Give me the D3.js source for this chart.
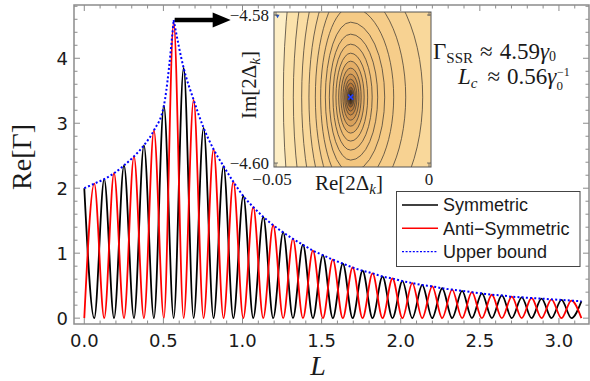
<!DOCTYPE html>
<html>
<head>
<meta charset="utf-8">
<script src="https://cdn.jsdelivr.net/npm/d3@7"></script>
<style>
  body { margin: 0; background: #fff; }
  text { fill: #1a1a1a; }
</style>
</head>
<body>
<div id="chart"></div>
<script>
// positions of the successive maxima (L)
const peakL = [0.000, 0.063, 0.126, 0.188, 0.251, 0.314, 0.377, 0.440, 0.503, 0.565,
  0.628, 0.691, 0.754, 0.817, 0.880, 0.942, 1.005, 1.068, 1.131, 1.194,
  1.257, 1.319, 1.382, 1.445, 1.508, 1.571, 1.634, 1.696, 1.759, 1.822,
  1.885, 1.948, 2.011, 2.073, 2.136, 2.199, 2.262, 2.325, 2.388, 2.450,
  2.513, 2.576, 2.639, 2.702, 2.765, 2.827, 2.890, 2.953, 3.016, 3.079, 3.142];

const symmetric = [2.00, 0, 2.14, 0, 2.35, 0, 2.66, 0, 3.27, 0,
  3.85, 0, 2.93, 0, 2.34, 0, 1.88, 0, 1.56, 0,
  1.32, 0, 1.13, 0, 0.97, 0, 0.84, 0, 0.73, 0,
  0.64, 0, 0.57, 0, 0.51, 0, 0.46, 0, 0.42, 0,
  0.38, 0, 0.35, 0, 0.32, 0, 0.30, 0, 0.28, 0, 0.26];

const antiSymmetric = [0, 2.07, 0, 2.23, 0, 2.49, 0, 2.89, 0, 4.55,
  0, 3.36, 0, 2.60, 0, 2.10, 0, 1.71, 0, 1.43,
  0, 1.22, 0, 1.04, 0, 0.90, 0, 0.78, 0, 0.69,
  0, 0.61, 0, 0.54, 0, 0.49, 0, 0.44, 0, 0.40,
  0, 0.36, 0, 0.33, 0, 0.31, 0, 0.29, 0, 0.27, 0];

const upperBound = [2.00, 2.07, 2.14, 2.23, 2.35, 2.49, 2.66, 2.89, 3.27, 4.59,
  3.85, 3.36, 2.93, 2.60, 2.34, 2.10, 1.88, 1.71, 1.56, 1.43,
  1.32, 1.22, 1.13, 1.04, 0.97, 0.90, 0.84, 0.78, 0.73, 0.69,
  0.64, 0.61, 0.57, 0.54, 0.51, 0.49, 0.46, 0.44, 0.42, 0.40,
  0.38, 0.36, 0.35, 0.33, 0.32, 0.31, 0.30, 0.29, 0.28, 0.27, 0.26];
const peakIndex = 9;

const xTicks = [0, 0.5, 1, 1.5, 2, 2.5, 3];
const yTicks = [0, 1, 2, 3, 4];
const legendLabels = ["Symmetric", "Anti\u2212Symmetric", "Upper bound"];

// inset: contour plot around the minimum
const insetXTicks = [-0.05, 0];
const insetYTicks = [-4.58, -4.60];
const minimumRe = -0.0256;
const minimumIm = -4.5911;
// each contour: reach to the left / right (Re) and half height (Im) from the minimum
const contourLeft = [0.00043, 0.00075, 0.00108, 0.00154, 0.00196, 0.00252, 0.00317, 0.00392, 0.00481,
  0.00579, 0.00697, 0.00827, 0.00981, 0.01154, 0.01364, 0.01602, 0.01874, 0.02201];
const contourRight = [0.00043, 0.00075, 0.00111, 0.00157, 0.00206, 0.00271, 0.00343, 0.00441, 0.00556,
  0.00703, 0.00883, 0.01112, 0.01406, 0.01799, 0.02354, 0.03107, 0.04251, 0.05886];
const contourHalfHeight = [0.00054, 0.00095, 0.00135, 0.00189, 0.00243, 0.00311, 0.00392, 0.00486, 0.00594,
  0.00716, 0.00851, 0.01013, 0.01215, 0.01458, 0.01755, 0.0216, 0.027, 0.0351];

const width = 590, height = 381;
const frame = {left: 74, right: 589, top: 5, bottom: 324};

const svg = d3.select("#chart")
  .append("svg")
  .attr("width", width)
  .attr("height", height);

const x = d3.scaleLinear().domain([-0.065, 3.19]).range([frame.left, frame.right]);
const y = d3.scaleLinear().domain([-0.09, 4.82]).range([frame.bottom, frame.top]);

svg.append("clipPath").attr("id", "plot-clip")
  .append("rect")
  .attr("x", frame.left).attr("y", frame.top)
  .attr("width", frame.right - frame.left).attr("height", frame.bottom - frame.top);

// curves
const line = d3.line()
  .x(d => x(d[0]))
  .y(d => y(d[1]))
  .curve(d3.curveMonotoneX);

const plot = svg.append("g").attr("clip-path", "url(#plot-clip)");

plot.append("path")
  .datum(peakL.map((l, i) => [l, symmetric[i]]))
  .attr("d", line)
  .attr("fill", "none")
  .attr("stroke", "#000")
  .attr("stroke-width", 1.8);

plot.append("path")
  .datum(peakL.map((l, i) => [l, antiSymmetric[i]]))
  .attr("d", line)
  .attr("fill", "none")
  .attr("stroke", "#ff0000")
  .attr("stroke-width", 1.8);

const upperPts = peakL.map((l, i) => [l, upperBound[i]]);
[upperPts.slice(0, peakIndex + 1), upperPts.slice(peakIndex)].forEach(seg => {
  plot.append("path")
    .datum(seg)
    .attr("d", line)
    .attr("fill", "none")
    .attr("stroke", "#0000ff")
    .attr("stroke-width", 2)
    .attr("stroke-dasharray", "2,2.2");
});

// frame and ticks
const frameColor = "#8c8c8c";
svg.append("rect")
  .attr("x", frame.left).attr("y", frame.top)
  .attr("width", frame.right - frame.left).attr("height", frame.bottom - frame.top)
  .attr("fill", "none")
  .attr("stroke", frameColor)
  .attr("stroke-width", 1.5);

const ticks = svg.append("g").attr("stroke", frameColor).attr("stroke-width", 1);
d3.range(0, 3.15, 0.1).forEach(v => {
  const major = Math.abs(v * 2 - Math.round(v * 2)) < 1e-6;
  const len = major ? 6 : 3.5;
  ticks.append("line").attr("x1", x(v)).attr("x2", x(v)).attr("y1", frame.bottom).attr("y2", frame.bottom - len);
  ticks.append("line").attr("x1", x(v)).attr("x2", x(v)).attr("y1", frame.top).attr("y2", frame.top + len);
});
d3.range(0, 4.81, 0.2).forEach(v => {
  const major = Math.abs(v - Math.round(v)) < 1e-6;
  const len = major ? 6 : 3.5;
  ticks.append("line").attr("y1", y(v)).attr("y2", y(v)).attr("x1", frame.left).attr("x2", frame.left + len);
  ticks.append("line").attr("y1", y(v)).attr("y2", y(v)).attr("x1", frame.right).attr("x2", frame.right - len);
});

svg.append("g").selectAll("text")
  .data(xTicks)
  .join("text")
  .attr("x", d => x(d))
  .attr("y", 346.5)
  .attr("text-anchor", "middle")
  .style("font-family", "DejaVu Sans")
  .style("font-size", "18px")
  .text(d => d.toFixed(1));

svg.append("g").selectAll("text")
  .data(yTicks)
  .join("text")
  .attr("x", 68)
  .attr("y", d => y(d) + 6.5)
  .attr("text-anchor", "end")
  .style("font-family", "DejaVu Sans")
  .style("font-size", "18px")
  .text(d => d);

// axis labels
svg.append("text")
  .attr("transform", "translate(31,157) rotate(-90)")
  .attr("text-anchor", "middle")
  .style("font-family", "Liberation Serif")
  .style("font-size", "28px")
  .text("Re[\u0393]");

svg.append("text")
  .attr("x", 318)
  .attr("y", 375)
  .attr("text-anchor", "middle")
  .style("font-family", "Liberation Serif")
  .style("font-style", "italic")
  .style("font-size", "28px")
  .text("L");

// legend
const legend = svg.append("g");
legend.append("rect")
  .attr("x", 396.5).attr("y", 191.5)
  .attr("width", 183.5).attr("height", 75)
  .attr("fill", "#fff")
  .attr("stroke", "#444")
  .attr("stroke-width", 1);
const legendStyles = [
  {stroke: "#000", dash: null},
  {stroke: "#ff0000", dash: null},
  {stroke: "#0000ff", dash: "2,1.6"}
];
legendLabels.forEach((label, i) => {
  const ly = 205 + i * 23.3;
  legend.append("line")
    .attr("x1", 402).attr("x2", 438).attr("y1", ly).attr("y2", ly)
    .attr("stroke", legendStyles[i].stroke)
    .attr("stroke-width", 1.4)
    .attr("stroke-dasharray", legendStyles[i].dash);
  legend.append("text")
    .attr("x", 443).attr("y", ly + 6.3)
    .style("font-family", "Liberation Sans")
    .style("font-size", "18px")
    .text(label);
});

// annotation
const note1 = svg.append("text")
  .attr("x", 433).attr("y", 59)
  .style("font-family", "Liberation Serif")
  .style("font-size", "23px");
note1.append("tspan").text("\u0393");
note1.append("tspan").attr("dy", 4).style("font-size", "15px").text("SSR");
note1.append("tspan").attr("dx", 7).attr("dy", -4).text("\u2248");
note1.append("tspan").attr("dx", 7).text("4.59");
note1.append("tspan").style("font-style", "italic").text("\u03b3");
note1.append("tspan").attr("dy", 2).style("font-size", "14px").text("0");

const note2 = svg.append("text")
  .attr("x", 458).attr("y", 84)
  .style("font-family", "Liberation Serif")
  .style("font-size", "23px");
note2.append("tspan").style("font-style", "italic").text("L");
note2.append("tspan").attr("dy", 4).style("font-size", "15px").style("font-style", "italic").text("c");
note2.append("tspan").attr("dx", 10).attr("dy", -4).text("\u2248");
note2.append("tspan").attr("dx", 7).text("0.56");
note2.append("tspan").style("font-style", "italic").text("\u03b3");
note2.append("tspan").attr("dy", 6).style("font-size", "13px").text("0");
note2.append("tspan").attr("dx", -6).attr("dy", -14).style("font-size", "12px").text("\u22121");

// arrow from the peak of the upper bound to the inset
const ax = x(peakL[peakIndex]) + 1, ay = y(upperBound[peakIndex]);
svg.append("path")
  .attr("d", `M${ax},${ay - 2.2} L${ax + 38},${ay - 2.2} L${ax + 38},${ay - 7.5} L${ax + 56},${ay} L${ax + 38},${ay + 7.5} L${ax + 38},${ay + 2.2} L${ax},${ay + 2.2} Z`)
  .attr("fill", "#000");

// inset
const inset = {left: 274, right: 431, top: 12, bottom: 167};
const xi = d3.scaleLinear().domain([-0.05, 0]).range([276, 429]);
const yi = d3.scaleLinear().domain([-4.58, -4.60]).range([15, 163]);

svg.append("clipPath").attr("id", "inset-clip")
  .append("rect")
  .attr("x", inset.left).attr("y", inset.top)
  .attr("width", inset.right - inset.left).attr("height", inset.bottom - inset.top);

const insetG = svg.append("g").attr("clip-path", "url(#inset-clip)");
const nLevels = contourLeft.length;
const levelColor = d3.scaleLinear()
  .domain([0, 3, 8, 13, nLevels - 1, nLevels])
  .range(["#24160c", "#b87838", "#efbc72", "#f6cd8a", "#fbe2ab", "#fdeec6"])
  .interpolate(d3.interpolateRgb);

insetG.append("rect")
  .attr("x", inset.left).attr("y", inset.top)
  .attr("width", inset.right - inset.left).attr("height", inset.bottom - inset.top)
  .attr("fill", levelColor(nLevels));

const cx = xi(minimumRe), cy = yi(minimumIm);
d3.range(nLevels - 1, -1, -1).forEach(i => {
  const rL = cx - xi(minimumRe - contourLeft[i]);
  const rR = xi(minimumRe + contourRight[i]) - cx;
  const ry = yi(minimumIm - contourHalfHeight[i]) - cy;
  insetG.append("path")
    .attr("d", `M${cx},${cy - ry} A${rR},${ry} 0 0 1 ${cx},${cy + ry} A${rL},${ry} 0 0 1 ${cx},${cy - ry} Z`)
    .attr("fill", levelColor(i))
    .attr("stroke", "#4a4238")
    .attr("stroke-width", 0.8);
});

// minimum marker
insetG.append("path")
  .attr("d", `M${cx - 2.5},${cy - 2.5} L${cx + 2.5},${cy + 2.5} M${cx - 2.5},${cy + 2.5} L${cx + 2.5},${cy - 2.5}`)
  .attr("stroke", "#1e3cff")
  .attr("stroke-width", 1.6);
insetG.append("path")
  .attr("d", `M${xi(-0.0495) - 2},${yi(-4.5801) - 1} L${xi(-0.0495) + 2},${yi(-4.5801) - 1} L${xi(-0.0495)},${yi(-4.5801) + 2.5} Z`)
  .attr("fill", "#1e50c8");

svg.append("rect")
  .attr("x", inset.left).attr("y", inset.top)
  .attr("width", inset.right - inset.left).attr("height", inset.bottom - inset.top)
  .attr("fill", "none")
  .attr("stroke", "#555")
  .attr("stroke-width", 1);

const insetTicks = svg.append("g").attr("stroke", "#555").attr("stroke-width", 0.8);
insetYTicks.forEach(v => {
  insetTicks.append("line").attr("x1", inset.left).attr("x2", inset.left + 4).attr("y1", yi(v)).attr("y2", yi(v));
  insetTicks.append("line").attr("x1", inset.right).attr("x2", inset.right - 4).attr("y1", yi(v)).attr("y2", yi(v));
});
insetXTicks.forEach(v => {
  insetTicks.append("line").attr("x1", xi(v)).attr("x2", xi(v)).attr("y1", inset.bottom).attr("y2", inset.bottom - 4);
  insetTicks.append("line").attr("x1", xi(v)).attr("x2", xi(v)).attr("y1", inset.top).attr("y2", inset.top + 4);
});

svg.append("g").selectAll("text")
  .data(insetYTicks)
  .join("text")
  .attr("x", 269)
  .attr("y", d => yi(d) + 5.5)
  .attr("text-anchor", "end")
  .style("font-family", "Liberation Serif")
  .style("font-size", "17px")
  .text(d => "\u2212" + Math.abs(d).toFixed(2));

svg.append("g").selectAll("text")
  .data(insetXTicks)
  .join("text")
  .attr("x", d => xi(d) - (d < 0 ? 4 : 0))
  .attr("y", 185)
  .attr("text-anchor", "middle")
  .style("font-family", "Liberation Serif")
  .style("font-size", "17px")
  .text(d => d < 0 ? "\u2212" + Math.abs(d).toFixed(2) : "0");

function deltaLabel(sel, prefix) {
  sel.append("tspan").text(prefix + "[2\u0394");
  sel.append("tspan").attr("dy", 4).style("font-size", "15px").style("font-style", "italic").text("k");
  sel.append("tspan").attr("dy", -4).text("]");
}

const reLabel = svg.append("text")
  .attr("x", 349).attr("y", 190)
  .attr("text-anchor", "middle")
  .style("font-family", "Liberation Serif")
  .style("font-size", "21px");
deltaLabel(reLabel, "Re");

const imLabel = svg.append("text")
  .attr("transform", "translate(256,85) rotate(-90)")
  .attr("text-anchor", "middle")
  .style("font-family", "Liberation Serif")
  .style("font-size", "21px");
deltaLabel(imLabel, "Im");
</script>
</body>
</html>
